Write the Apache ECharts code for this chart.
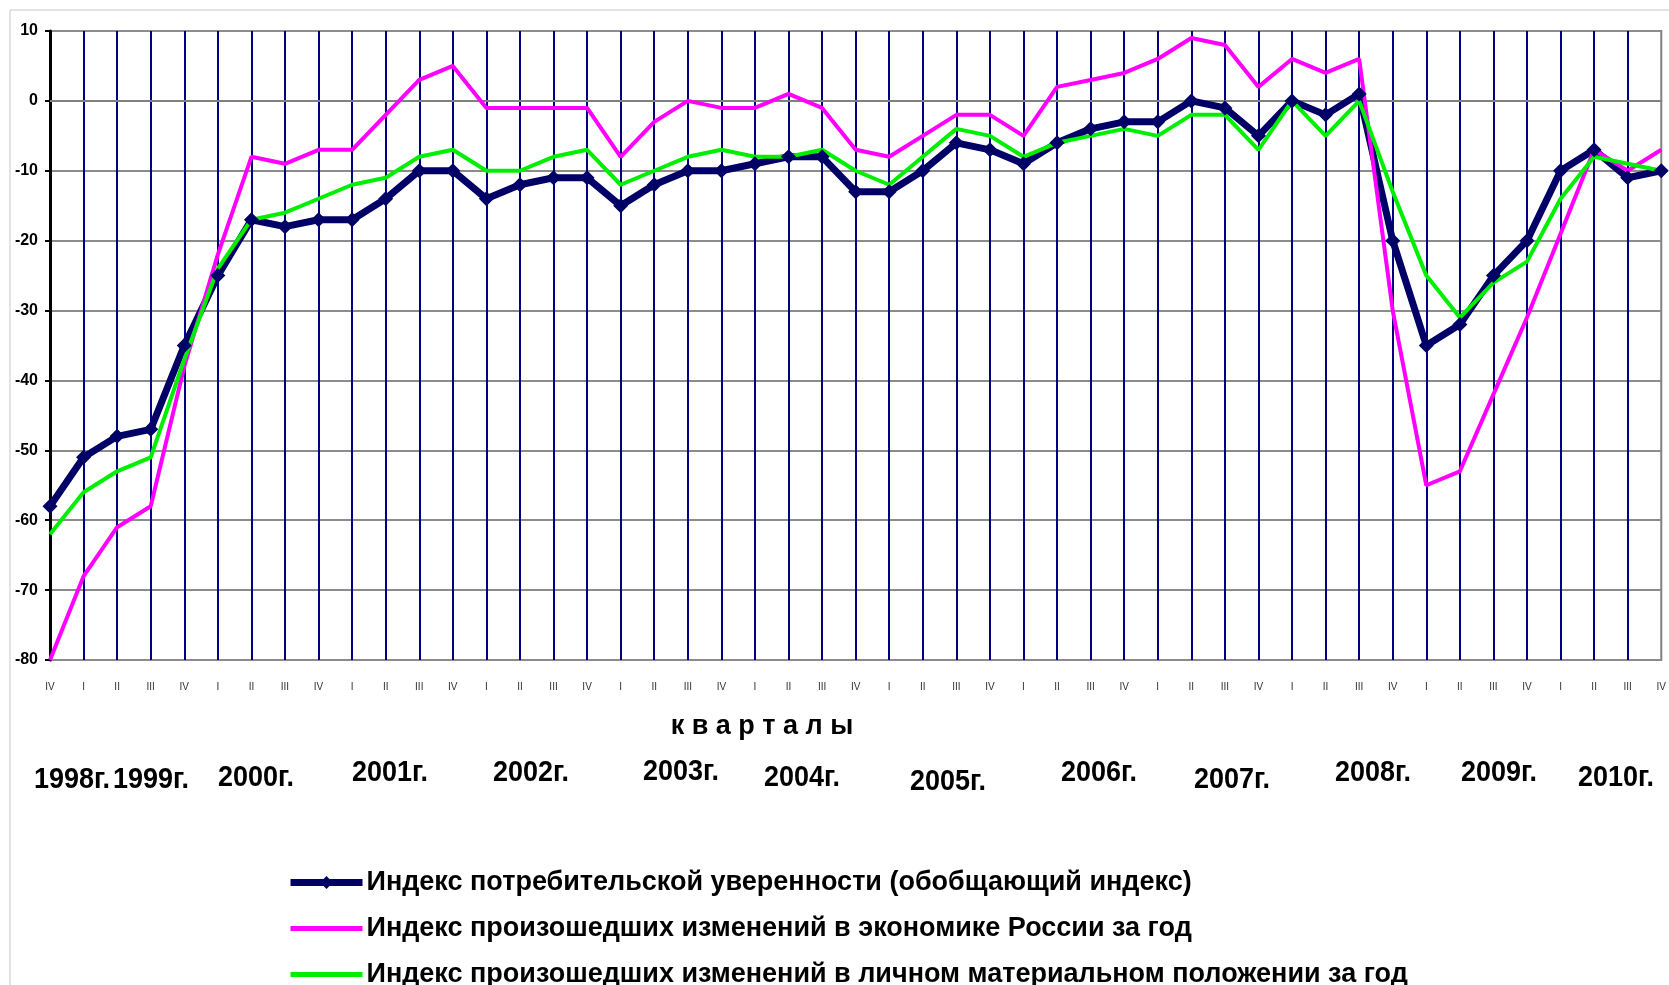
<!DOCTYPE html>
<html>
<head>
<meta charset="utf-8">
<title>Индексы потребительской уверенности</title>
<script src="https://cdn.jsdelivr.net/npm/echarts@6/dist/echarts.min.js"></script>
<style>
    html, body { margin: 0; padding: 0; background: #fff; }
    #main { width: 1669px; height: 985px; }
</style>
</head>
<body>
<div id="main"></div>
<script>
// кварталы с IV кв. 1998 по IV кв. 2010
var quarters = ['IV',
    'I', 'II', 'III', 'IV', 'I', 'II', 'III', 'IV', 'I', 'II', 'III', 'IV',
    'I', 'II', 'III', 'IV', 'I', 'II', 'III', 'IV', 'I', 'II', 'III', 'IV',
    'I', 'II', 'III', 'IV', 'I', 'II', 'III', 'IV', 'I', 'II', 'III', 'IV',
    'I', 'II', 'III', 'IV', 'I', 'II', 'III', 'IV', 'I', 'II', 'III', 'IV'];

var yearLabels = ['1998г.', '1999г.', '2000г.', '2001г.', '2002г.', '2003г.', '2004г.',
    '2005г.', '2006г.', '2007г.', '2008г.', '2009г.', '2010г.'];

var seriesNames = [
    'Индекс потребительской уверенности (обобщающий индекс)',
    'Индекс произошедших изменений в экономике России за год',
    'Индекс произошедших изменений в личном материальном положении за год'
];

// обобщающий индекс
var confidence = [-58,
    -51, -48, -47, -35, -25, -17, -18, -17, -17, -14, -10, -10,
    -14, -12, -11, -11, -15, -12, -10, -10, -9, -8, -8, -13,
    -13, -10, -6, -7, -9, -6, -4, -3, -3, 0, -1, -5,
    0, -2, 1, -20, -35, -32, -25, -20, -10, -7, -11, -10];

// экономика России
var economy = [-80,
    -68, -61, -58, -38, -22, -8, -9, -7, -7, -2, 3, 5,
    -1, -1, -1, -1, -8, -3, 0, -1, -1, 1, -1, -7,
    -8, -5, -2, -2, -5, 2, 3, 4, 6, 9, 8, 2,
    6, 4, 6, -30, -55, -53, -42, -31, -19, -7, -10, -7];

// личное материальное положение
var personal = [-62,
    -56, -53, -51, -37, -24, -17, -16, -14, -12, -11, -8, -7,
    -10, -10, -8, -7, -12, -10, -8, -7, -8, -8, -7, -10,
    -12, -8, -4, -5, -8, -6, -5, -4, -5, -2, -2, -7,
    0, -5, 0, -13, -25, -31, -26, -23, -14, -8, -9, -10];

// подписи годов под осью (центр текста)
var yearPos = [[72, 780], [151, 780], [256, 778], [390, 773], [531, 773], [681, 772], [802, 778],
    [948, 782], [1099, 773], [1232, 780], [1373, 773], [1499, 773], [1616, 778]];

var myChart = echarts.init(document.getElementById('main'));

var graphics = [
    // рамка
    {
        type: 'rect',
        shape: { x: 10, y: 10, width: 1700, height: 1000 },
        style: { fill: 'none', stroke: '#c8c8c8', lineWidth: 1 },
        silent: true
    },
    {
        type: 'text',
        x: 762,
        y: 727,
        style: {
            text: 'к в а р т а л ы',
            font: 'bold 27px "Liberation Sans", Arial, sans-serif',
            fill: '#000',
            align: 'center',
            verticalAlign: 'middle'
        }
    }
];

// года - узкий шрифт, сжимаем по горизонтали
for (var i = 0; i < yearLabels.length; i++) {
    graphics.push({
        type: 'text',
        x: yearPos[i][0],
        y: yearPos[i][1],
        scaleX: 0.93,
        style: {
            text: yearLabels[i],
            font: 'bold 29px "Liberation Sans", Arial, sans-serif',
            fill: '#000',
            align: 'center',
            verticalAlign: 'middle'
        }
    });
}

myChart.setOption({
    animation: false,
    backgroundColor: '#fff',
    grid: {
        left: 50,
        right: 7,
        top: 31,
        bottom: 325,
        show: true,
        borderColor: '#808080',
        borderWidth: 2,
        containLabel: false
    },
    legend: {
        orient: 'vertical',
        left: 282,
        top: 864,
        height: 160,
        itemWidth: 72,
        itemHeight: 16,
        itemGap: 19,
        textStyle: {
            fontFamily: '"Liberation Sans", Arial, sans-serif',
            fontSize: 27,
            fontWeight: 'bold',
            color: '#000',
            padding: [0, 0, 0, -1]
        },
        data: [
            { name: seriesNames[0], lineStyle: { width: 7 } },
            { name: seriesNames[1], lineStyle: { width: 5 }, itemStyle: { opacity: 0 } },
            { name: seriesNames[2], lineStyle: { width: 5 }, itemStyle: { opacity: 0 } }
        ]
    },
    xAxis: {
        type: 'category',
        boundaryGap: false,
        data: quarters,
        axisLine: { lineStyle: { color: '#808080', width: 2 } },
        axisTick: { show: false },
        axisLabel: {
            interval: 0,
            fontSize: 10,
            color: '#333',
            margin: 22,
            fontFamily: 'Arial, sans-serif'
        },
        splitLine: {
            show: true,
            interval: function (index) {
                return index < quarters.length - 1;
            },
            lineStyle: { color: '#000080', width: 2 }
        }
    },
    yAxis: {
        type: 'value',
        min: -80,
        max: 10,
        interval: 10,
        axisLine: { show: true, lineStyle: { color: '#000', width: 3 } },
        axisTick: { show: true, length: 5, lineStyle: { color: '#000', width: 2 } },
        axisLabel: {
            fontSize: 16,
            fontWeight: 'bold',
            color: '#000',
            margin: 12,
            fontFamily: 'Arial, sans-serif'
        },
        splitLine: { lineStyle: { color: '#8c8c8c', width: 2 } }
    },
    series: [
        {
            name: seriesNames[0],
            type: 'line',
            data: confidence,
            color: '#000066',
            lineStyle: { width: 7 },
            symbol: 'diamond',
            symbolSize: 15,
            showSymbol: true
        },
        {
            name: seriesNames[1],
            type: 'line',
            data: economy,
            color: '#ff00ff',
            lineStyle: { width: 4 },
            symbol: 'none'
        },
        {
            name: seriesNames[2],
            type: 'line',
            data: personal,
            color: '#00ee00',
            lineStyle: { width: 4 },
            symbol: 'none'
        }
    ],
    graphic: graphics
});
</script>
</body>
</html>
